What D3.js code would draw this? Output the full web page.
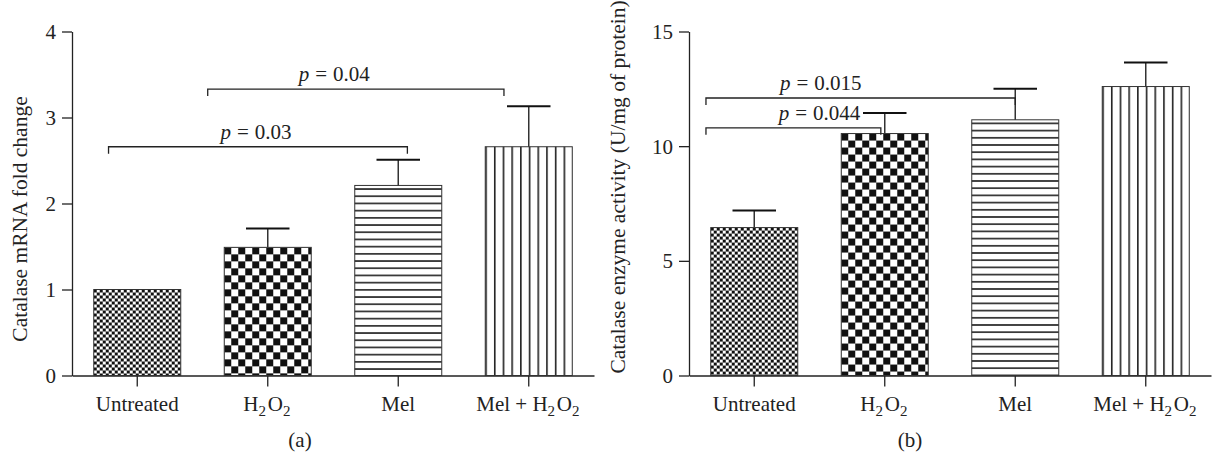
<!DOCTYPE html>
<html>
<head>
<meta charset="utf-8">
<script src="https://cdn.jsdelivr.net/npm/d3@7"></script>
<style>
  body { margin: 0; background: #fff; }
  text { font-family: "Liberation Serif", "Times New Roman", serif; fill: #222; }
  .axis path, .axis line { stroke: #222; stroke-width: 1.3; }
  .axis text { font-size: 21px; }
</style>
</head>
<body>
<svg id="chart" width="1213" height="456"></svg>
<script>
// groups and values
var groups = ['Untreated', 'H2O2', 'Mel', 'Mel + H2O2'];
var patterns = ['fineCheck', 'bigCheck', 'hLines', 'vLines'];

var mrnaMean = [1.0, 1.49, 2.21, 2.66];
var mrnaUpper = [null, 1.71, 2.51, 3.13];
var mrnaTicks = [0, 1, 2, 3, 4];
// bracket ends and label are in group-index units (0 = first bar centre)
var mrnaPairs = [
  { from: -0.22, to: 2.07, at: 0.91, level: 2.66, p: '0.03' },
  { from: 0.54, to: 2.81, at: 1.51, level: 3.33, p: '0.04' }
];

var enzMean = [6.45, 10.55, 11.15, 12.6];
var enzUpper = [7.2, 11.45, 12.5, 13.65];
var enzTicks = [0, 5, 10, 15];
var enzPairs = [
  { from: -0.37, to: 0.97, at: 0.5, level: 10.8, p: '0.044' },
  { from: -0.37, to: 2.0, at: 0.51, level: 12.1, p: '0.015' }
];

var svg = d3.select('#chart');
var defs = svg.append('defs');

// fill patterns
function makePatterns(bw) {
  var p;
  p = defs.append('pattern').attr('id', 'fineCheck').attr('patternUnits', 'userSpaceOnUse')
    .attr('width', 6).attr('height', 6);
  p.append('rect').attr('width', 6).attr('height', 6).attr('fill', '#fff');
  p.append('rect').attr('width', 3).attr('height', 3).attr('fill', '#111');
  p.append('rect').attr('x', 3).attr('y', 3).attr('width', 3).attr('height', 3).attr('fill', '#111');

  p = defs.append('pattern').attr('id', 'bigCheck').attr('patternUnits', 'userSpaceOnUse')
    .attr('width', 14).attr('height', 14);
  p.append('rect').attr('width', 14).attr('height', 14).attr('fill', '#fff');
  p.append('rect').attr('width', 7).attr('height', 7).attr('fill', '#111');
  p.append('rect').attr('x', 7).attr('y', 7).attr('width', 7).attr('height', 7).attr('fill', '#111');

  p = defs.append('pattern').attr('id', 'hLines').attr('patternUnits', 'userSpaceOnUse')
    .attr('width', 10).attr('height', 7.2);
  p.append('rect').attr('width', 10).attr('height', 7.2).attr('fill', '#fff');
  p.append('rect').attr('y', 2.8).attr('width', 10).attr('height', 1.6).attr('fill', '#222');

  var vw = bw / 10;
  p = defs.append('pattern').attr('id', 'vLines').attr('patternUnits', 'userSpaceOnUse')
    .attr('width', vw).attr('height', 10);
  p.append('rect').attr('width', vw).attr('height', 10).attr('fill', '#fff');
  p.append('rect').attr('width', 1.6).attr('height', 10).attr('fill', '#222');
}

function addLabel(sel, label) {
  // draws H2O2 with real subscripts
  var parts = label.split(/(2)/);
  parts.forEach(function (s) {
    if (!s) return;
    if (s === '2') {
      sel.append('tspan').attr('font-size', '15px').attr('dy', 5).text('2');
      sel.append('tspan').attr('dy', -5).text('\u200a');
    } else {
      sel.append('tspan').text(s);
    }
  });
}

function drawPanel(opt) {
  var g = svg.append('g');

  var x = d3.scaleBand().domain(groups).range(opt.xRange)
    .paddingInner(1 / 3).paddingOuter(1 / 6);
  var y = d3.scaleLinear().domain([0, opt.yMax]).range([375.5, 31.5]);
  var bw = x.bandwidth();
  // group index -> bar centre, for annotations that sit between bars
  var xi = d3.scaleLinear().domain([0, groups.length - 1])
    .range([x(groups[0]) + bw / 2, x(groups[groups.length - 1]) + bw / 2]);

  // axes
  g.append('g').attr('class', 'axis')
    .attr('transform', 'translate(' + opt.xRange[0] + ',0)')
    .call(d3.axisLeft(y).tickValues(opt.ticks).tickFormat(d3.format('d'))
      .tickSize(10).tickSizeOuter(0).tickPadding(6))
    .selectAll('text').attr('dy', '0.34em');

  var xa = g.append('g').attr('class', 'axis')
    .attr('transform', 'translate(0,' + y(0) + ')')
    .call(d3.axisBottom(x).tickSize(11).tickSizeOuter(0).tickPadding(10));
  xa.selectAll('text').each(function (d) {
    var t = d3.select(this).text('').attr('dy', '0.71em');
    addLabel(t, d);
  });

  // bars
  var bars = g.selectAll('.bar').data(groups).enter().append('g')
    .attr('class', 'bar')
    .attr('transform', function (d, i) { return 'translate(' + x(d) + ',' + y(opt.mean[i]) + ')'; });
  bars.append('rect')
    .attr('width', bw)
    .attr('height', function (d, i) { return y(0) - y(opt.mean[i]); })
    .attr('fill', function (d, i) { return 'url(#' + patterns[i] + ')'; })
    .attr('stroke', '#333').attr('stroke-width', 1);

  // error bars (upper only)
  groups.forEach(function (d, i) {
    if (opt.upper[i] == null) return;
    var cx = x(d) + bw / 2;
    g.append('line').attr('x1', cx).attr('x2', cx)
      .attr('y1', y(opt.mean[i])).attr('y2', y(opt.upper[i]))
      .attr('stroke', '#333').attr('stroke-width', 1.5);
    g.append('line').attr('x1', cx - bw / 4).attr('x2', cx + bw / 4)
      .attr('y1', y(opt.upper[i])).attr('y2', y(opt.upper[i]))
      .attr('stroke', '#111').attr('stroke-width', 2);
  });

  // significance brackets
  opt.pairs.forEach(function (pr) {
    var x1 = xi(pr.from), x2 = xi(pr.to), yy = y(pr.level);
    g.append('path')
      .attr('d', 'M' + x1 + ',' + (yy + 7) + 'V' + yy + 'H' + x2 + 'V' + (yy + 7))
      .attr('fill', 'none').attr('stroke', '#222').attr('stroke-width', 1.3);
    var t = g.append('text').attr('x', xi(pr.at)).attr('y', yy - 8)
      .attr('text-anchor', 'middle').attr('font-size', '21px');
    t.append('tspan').attr('font-style', 'italic').text('p');
    t.append('tspan').attr('dx', 6).text('=');
    t.append('tspan').attr('dx', 6).text(pr.p);
  });

  // y title
  g.append('text')
    .attr('transform', 'translate(' + opt.titleX + ',' + opt.titleY + ') rotate(-90)')
    .attr('text-anchor', 'middle').attr('font-size', '21.5px')
    .text(opt.title);

  // panel caption
  g.append('text').attr('x', opt.capX).attr('y', 447)
    .attr('text-anchor', 'middle').attr('font-size', '21px').text(opt.cap);

  return bw;
}

var bwA = (594 - 72) / 4 * (2 / 3);
makePatterns(bwA);

drawPanel({
  xRange: [72, 594], yMax: 4, ticks: mrnaTicks,
  mean: mrnaMean, upper: mrnaUpper, pairs: mrnaPairs,
  title: 'Catalase mRNA fold change', titleX: 27, titleY: 219,
  cap: '(a)', capX: 300
});

drawPanel({
  xRange: [689, 1211], yMax: 15, ticks: enzTicks,
  mean: enzMean, upper: enzUpper, pairs: enzPairs,
  title: 'Catalase enzyme activity (U/mg of protein)', titleX: 625, titleY: 187,
  cap: '(b)', capX: 910
});
</script>
</body>
</html>
